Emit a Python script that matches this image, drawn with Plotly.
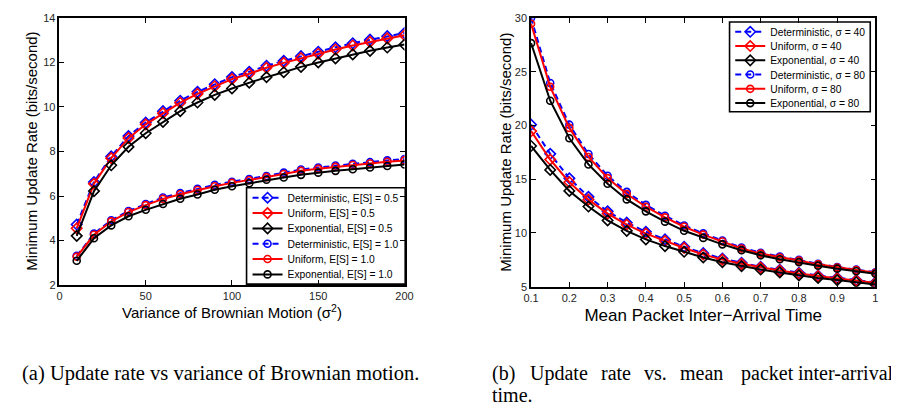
import plotly.graph_objects as go

# ---------------- data: (a) update rate vs variance of Brownian motion ----------------
sigma2 = [10, 20, 30, 40, 50, 60, 70, 80, 90, 100, 110, 120, 130, 140, 150, 160, 170, 180, 190, 200]
det_05 = [4.72, 6.63, 7.78, 8.69, 9.30, 9.81, 10.28, 10.68, 11.02, 11.34, 11.58, 11.85, 12.07, 12.28, 12.48, 12.68, 12.86, 13.02, 13.18, 13.32]
uni_05 = [4.55, 6.55, 7.70, 8.60, 9.22, 9.72, 10.19, 10.59, 10.93, 11.25, 11.49, 11.76, 11.98, 12.19, 12.39, 12.58, 12.76, 12.92, 13.08, 13.22]
exp_05 = [4.21, 6.22, 7.38, 8.21, 8.82, 9.33, 9.81, 10.20, 10.54, 10.83, 11.09, 11.34, 11.56, 11.80, 12.00, 12.18, 12.36, 12.52, 12.67, 12.80]
det_10 = [3.31, 4.31, 4.91, 5.33, 5.64, 5.93, 6.13, 6.32, 6.50, 6.64, 6.76, 6.90, 7.05, 7.19, 7.28, 7.37, 7.45, 7.52, 7.60, 7.66]
uni_10 = [3.27, 4.26, 4.86, 5.28, 5.59, 5.87, 6.08, 6.27, 6.44, 6.59, 6.71, 6.85, 6.99, 7.13, 7.22, 7.31, 7.39, 7.46, 7.54, 7.60]
exp_10 = [3.09, 4.10, 4.68, 5.09, 5.38, 5.64, 5.88, 6.07, 6.28, 6.44, 6.57, 6.73, 6.83, 6.95, 7.05, 7.13, 7.20, 7.28, 7.35, 7.42]

# ---------------- data: (b) update rate vs mean packet inter-arrival time ----------------
t_mean = [0.1, 0.15, 0.2, 0.25, 0.3, 0.35, 0.4, 0.45, 0.5, 0.55, 0.6, 0.65, 0.7, 0.75, 0.8, 0.85, 0.9, 0.95, 1.0]
det_40 = [20.07, 17.36, 15.08, 13.36, 12.01, 10.96, 10.11, 9.40, 8.72, 8.12, 7.62, 7.22, 6.86, 6.58, 6.30, 6.04, 5.83, 5.62, 5.40]
uni_40 = [19.47, 16.82, 14.72, 13.10, 11.80, 10.77, 9.94, 9.25, 8.60, 8.00, 7.52, 7.13, 6.78, 6.50, 6.23, 5.98, 5.77, 5.57, 5.35]
exp_40 = [18.09, 15.86, 13.91, 12.46, 11.17, 10.20, 9.40, 8.78, 8.25, 7.72, 7.28, 6.92, 6.60, 6.33, 6.06, 5.82, 5.62, 5.42, 5.20]
det_80 = [30.00, 23.95, 20.07, 17.34, 15.32, 13.82, 12.61, 11.60, 10.70, 9.96, 9.30, 8.64, 8.16, 7.80, 7.50, 7.14, 6.83, 6.60, 6.35]
uni_80 = [29.46, 23.59, 19.77, 17.07, 15.10, 13.62, 12.44, 11.45, 10.58, 9.85, 9.20, 8.56, 8.08, 7.72, 7.43, 7.08, 6.78, 6.55, 6.30]
exp_80 = [27.65, 22.30, 18.81, 16.37, 14.57, 13.12, 12.01, 11.05, 10.20, 9.54, 8.94, 8.40, 7.92, 7.55, 7.29, 6.96, 6.68, 6.44, 6.20]

names_a = ["Deterministic, E[S] = 0.5", "Uniform, E[S] = 0.5", "Exponential, E[S] = 0.5",
           "Deterministic, E[S] = 1.0", "Uniform, E[S] = 1.0", "Exponential, E[S] = 1.0"]
names_b = ["Deterministic, σ = 40", "Uniform, σ = 40", "Exponential, σ = 40",
           "Deterministic, σ = 80", "Uniform, σ = 80", "Exponential, σ = 80"]

xticks_a = [0, 50, 100, 150, 200]
yticks_a = [2, 4, 6, 8, 10, 12, 14]
xticks_b = [0.1, 0.2, 0.3, 0.4, 0.5, 0.6, 0.7, 0.8, 0.9, 1.0]
xticktext_b = ["0.1", "0.2", "0.3", "0.4", "0.5", "0.6", "0.7", "0.8", "0.9", "1"]
yticks_b = [5, 10, 15, 20, 25, 30]

ytitle = "Minimum Update Rate (bits/second)"
caption_a = "(a) Update rate vs variance of Brownian motion."
caption_b_words = ["(b)", "Update", "rate", "vs.", "mean", "packet", "inter-arrival"]
caption_b_line2 = "time."

# ---------------- styling ----------------
W, H = 899, 408
BLUE, RED, BLACK = "#0000FF", "#FF0000", "#000000"
styles = [
    dict(color=BLUE, dash="6px,4px", sym="diamond-open"),
    dict(color=RED, dash="solid", sym="diamond-open"),
    dict(color=BLACK, dash="solid", sym="diamond-open"),
    dict(color=BLUE, dash="6px,4px", sym="circle-open"),
    dict(color=RED, dash="solid", sym="circle-open"),
    dict(color=BLACK, dash="solid", sym="circle-open"),
]

def px_x(v):
    return v / W

def px_y(v):
    return 1 - v / H

fig = go.Figure()

series_a = [det_05, uni_05, exp_05, det_10, uni_10, exp_10]
series_b = [det_40, uni_40, exp_40, det_80, uni_80, exp_80]

def add_series(xs, ys, nm, st, xa, ya, lg):
    fig.add_trace(go.Scatter(
        x=xs, y=ys, name=nm, mode="lines+markers",
        line=dict(color=st["color"], width=2, dash=st["dash"]),
        marker=dict(symbol=st["sym"], size=8 if "diamond" in st["sym"] else 7,
                    color=st["color"], line=dict(width=1.6, color=st["color"])),
        xaxis=xa, yaxis=ya, legend=lg,
    ))

for i, (ys, nm, st) in enumerate(zip(series_a, names_a, styles)):
    add_series(sigma2, ys, nm, st, "x", "y", "legend" if i == 0 else f"legend{i + 1}")
for i, (ys, nm, st) in enumerate(zip(series_b, names_b, styles)):
    add_series(t_mean, ys, nm, st, "x2", "y2", f"legend{i + 7}")

SANS = "Liberation Sans, Arial, sans-serif"
tickfont = dict(family=SANS, size=11, color="#262626")
axis_common = dict(showline=True, linecolor="black", linewidth=1.5, mirror="allticks",
                   ticks="inside", ticklen=5, tickwidth=1, tickcolor="black",
                   showgrid=False, zeroline=False, tickfont=tickfont,
                   ticklabeloverflow="allow")

layout = dict(
    width=W, height=H,
    margin=dict(l=0, r=0, t=0, b=0),
    paper_bgcolor="white", plot_bgcolor="white",
    showlegend=True,
    xaxis=dict(domain=[px_x(44.3), px_x(396)], range=[0, 200], tickvals=xticks_a,
               title=dict(text="Variance of Brownian Motion (σ<sup>2</sup>)",
                          font=dict(family=SANS, size=15, color="black"), standoff=6),
               anchor="y", **axis_common),
    yaxis=dict(domain=[px_y(279.3), px_y(4)], range=[2, 14], tickvals=yticks_a,
               anchor="x", **axis_common),
    xaxis2=dict(domain=[px_x(525), px_x(876)], range=[0.1, 1.0], tickvals=xticks_b, ticktext=xticktext_b,
                title=dict(text="Mean Packet Inter−Arrival Time",
                           font=dict(family=SANS, size=17, color="black"), standoff=6),
                anchor="y2", **axis_common),
    yaxis2=dict(domain=[px_y(281), px_y(4)], range=[5, 30], tickvals=yticks_b,
                anchor="x2", **axis_common),
)

# one legend per entry so the row spacing can follow the original
rows_a = [189.3, 205.1, 220.9, 236.7, 252.5, 268.3]
rows_b = [18.3, 33.0, 47.7, 62.4, 77.1, 91.8]
legend_font = dict(family=SANS, size=10.3, color="black")
for i in range(12):
    key = "legend" if i == 0 else f"legend{i + 1}"
    if i < 6:
        lx, ly = 236, rows_a[i]
    else:
        lx, ly = 728, rows_b[i - 6]
    layout[key] = dict(x=px_x(lx), y=px_y(ly), xanchor="left", yanchor="middle",
                       xref="paper", yref="paper",
                       bgcolor="rgba(0,0,0,0)", borderwidth=0, font=legend_font,
                       itemwidth=30, itemclick=False, itemdoubleclick=False)

fig.update_layout(**layout)

# legend frames
fig.add_shape(type="rect", xref="paper", yref="paper",
              x0=px_x(235), x1=px_x(396.7), y0=px_y(278.3), y1=px_y(179),
              line=dict(color="black", width=1.6), fillcolor="white", layer="below")
fig.add_shape(type="rect", xref="paper", yref="paper",
              x0=px_x(727.3), x1=px_x(870.7), y0=px_y(100.7), y1=px_y(8.3),
              line=dict(color="black", width=1.6), fillcolor="white", layer="below")

# y-axis titles
yt_font = dict(family=SANS, size=15, color="black")
fig.add_annotation(text=ytitle, xref="paper", yref="paper", x=px_x(15.5), y=px_y(141.6),
                   textangle=-90, xanchor="center", yanchor="middle", showarrow=False, font=yt_font)
fig.add_annotation(text=ytitle, xref="paper", yref="paper", x=px_x(499), y=px_y(142.5),
                   textangle=-90, xanchor="center", yanchor="middle", showarrow=False, font=yt_font)

# captions
SERIF = "Liberation Serif, Times New Roman, serif"
fig.add_annotation(text=caption_a, xref="paper", yref="paper", x=px_x(4), y=px_y(370),
                   xanchor="left", yanchor="middle", showarrow=False,
                   font=dict(family=SERIF, size=20.5, color="black"))
word_x = [483, 522, 594, 638, 675, 737]
for wx, w in zip(word_x, caption_b_words[:-1]):
    fig.add_annotation(text=w, xref="paper", yref="paper", x=px_x(wx), y=px_y(370),
                       xanchor="left", yanchor="middle", showarrow=False,
                       font=dict(family=SERIF, size=20, color="black"))
fig.add_annotation(text=caption_b_words[-1], xref="paper", yref="paper", x=px_x(897), y=px_y(370),
                   xanchor="right", yanchor="middle", showarrow=False,
                   font=dict(family=SERIF, size=20, color="black"))
fig.add_annotation(text=caption_b_line2, xref="paper", yref="paper", x=px_x(483), y=px_y(393),
                   xanchor="left", yanchor="middle", showarrow=False,
                   font=dict(family=SERIF, size=20, color="black"))

fig.write_html("out.html")
